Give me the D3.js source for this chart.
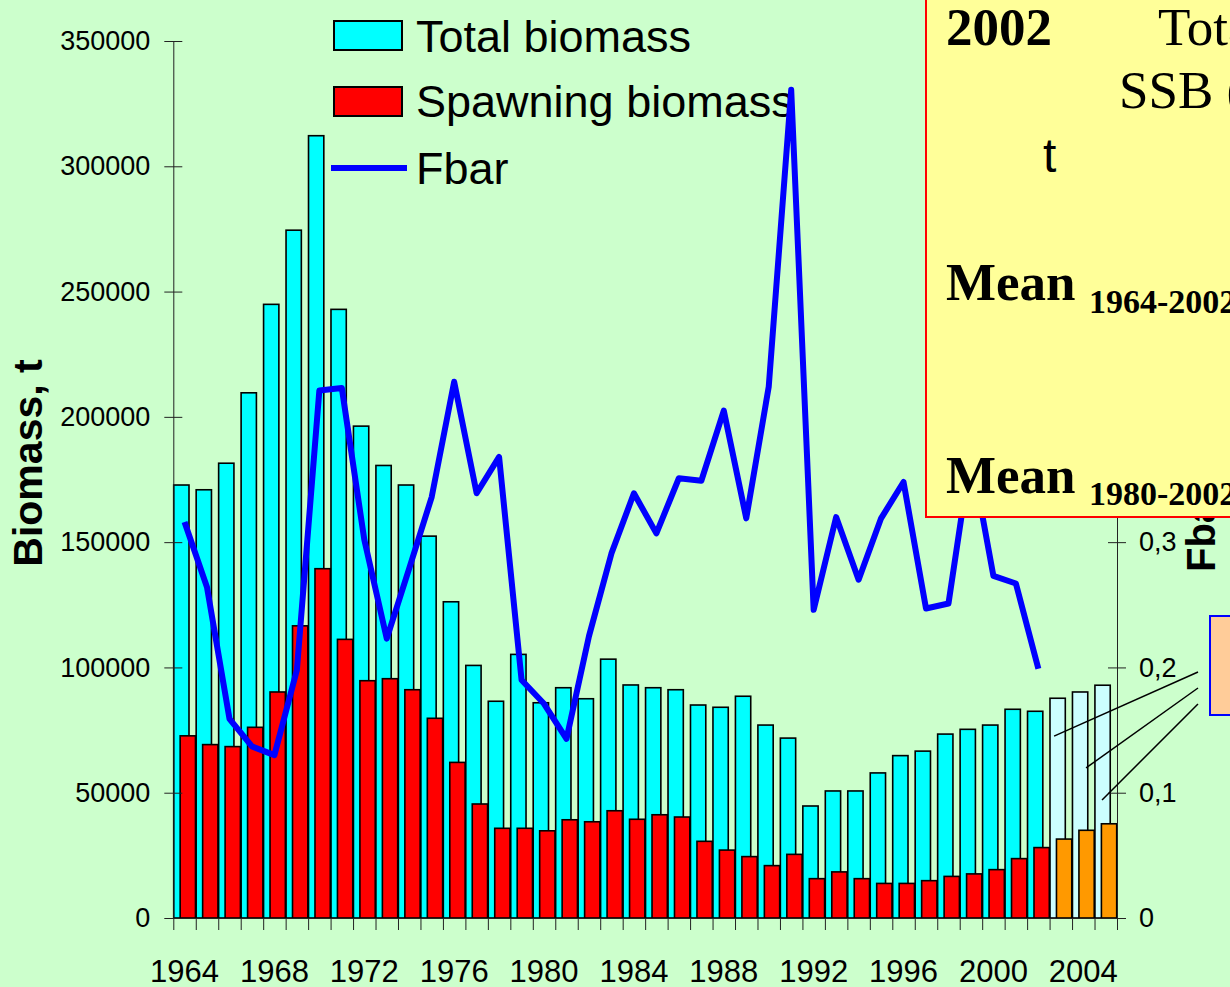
<!DOCTYPE html>
<html>
<head>
<meta charset="utf-8">
<script src="https://cdn.jsdelivr.net/npm/d3@7"></script>
<style>
  html, body { margin: 0; padding: 0; background: #CCFFCC; overflow: hidden; }
  svg { display: block; }
</style>
</head>
<body>
<div id="chart"></div>
<script>
// data
var years = d3.range(1964, 2006);
var totalBiomass = [172800, 170900, 181500, 209600, 244900, 274500, 312200, 242900, 196300, 180600,
    172800, 152400, 126200, 100800, 86500, 105200, 85900, 91900, 87500, 103300,
    93000, 91900, 91100, 85000, 84100, 88500, 77000, 71800, 44700, 50700,
    50700, 57900, 64800, 66600, 73400, 75300, 77000, 83300, 82500, 87700,
    90200, 92900];
var spawningBiomass = [72700, 69200, 68400, 76100, 90200, 116600, 139400, 111200, 94700, 95500,
    91100, 79700, 62100, 45500, 35800, 35800, 34800, 39200, 38400, 42800,
    39400, 41200, 40300, 30600, 27100, 24500, 20900, 25400, 15700, 18400,
    15700, 13800, 13800, 14900, 16600, 17600, 19300, 23700, 28100, 31500,
    35000, 37600];
var fbar = [0.316, 0.264, 0.159, 0.137, 0.130, 0.198, 0.421, 0.423, 0.302, 0.223,
    0.279, 0.336, 0.428, 0.339, 0.368, 0.190, 0.171, 0.143, 0.225, 0.291,
    0.339, 0.307, 0.351, 0.349, 0.405, 0.319, 0.424, 0.661, 0.246, 0.320,
    0.270, 0.319, 0.348, 0.247, 0.251, 0.371, 0.273, 0.267, 0.199, null,
    null, null];
var projectedYears = [2003, 2004, 2005];
var leftTicks = [0, 50000, 100000, 150000, 200000, 250000, 300000, 350000];
var rightTicks = [0, 0.1, 0.2, 0.3, 0.4, 0.5, 0.6, 0.7];
var labelYears = [1964, 1968, 1972, 1976, 1980, 1984, 1988, 1992, 1996, 2000, 2004];
var legendLabels = ["Total biomass", "Spawning biomass", "Fbar"];
// pointers from the note box to the projected bars
var pointerYears = [2003, 2004, 2005];
var pointerValues = [72600, 59900, 47100];

var W = 1230, H = 987;
var plotLeft = 173.3, plotRight = 1117, plotBottom = 918, plotTop = 41;
var sans = "'Liberation Sans', Arial, sans-serif";
var serif = "'Liberation Serif', 'Times New Roman', serif";

var svg = d3.select("#chart").append("svg")
    .attr("width", W).attr("height", H);

svg.append("rect").attr("width", W).attr("height", H).attr("fill", "#CCFFCC");

var x = d3.scaleBand().domain(years).range([plotLeft, plotRight]).padding(0);
var xl = d3.scaleLinear().domain([1964, 2006]).range([plotLeft, plotRight]);
var y = d3.scaleLinear().domain([0, 350000]).range([plotBottom, plotTop]);
var y2 = d3.scaleLinear().domain([0, 0.7]).range([plotBottom, plotTop]);
var bw = x.bandwidth();
var barW = 15.3;

var isProj = function(yr) { return projectedYears.indexOf(yr) >= 0; };

// total biomass bars
svg.append("g").selectAll("rect")
    .data(years)
    .enter().append("rect")
    .attr("x", function(d) { return x(d) + 0.4; })
    .attr("y", function(d, i) { return y(totalBiomass[i]); })
    .attr("width", barW)
    .attr("height", function(d, i) { return plotBottom - y(totalBiomass[i]); })
    .attr("fill", function(d) { return isProj(d) ? "#CCFFFF" : "#00FFFF"; })
    .attr("stroke", "#000").attr("stroke-width", 1.6);

// spawning biomass bars
svg.append("g").selectAll("rect")
    .data(years)
    .enter().append("rect")
    .attr("x", function(d) { return x(d) + bw - barW - 0.3; })
    .attr("y", function(d, i) { return y(spawningBiomass[i]); })
    .attr("width", barW)
    .attr("height", function(d, i) { return plotBottom - y(spawningBiomass[i]); })
    .attr("fill", function(d) { return isProj(d) ? "#FF9900" : "#FF0000"; })
    .attr("stroke", "#000").attr("stroke-width", 1.6);

// left axis
var gl = svg.append("g")
    .attr("transform", "translate(" + plotLeft + ",0)")
    .call(d3.axisLeft(y).tickValues(leftTicks).tickFormat(d3.format("d"))
        .tickSizeInner(9).tickSizeOuter(0).tickPadding(14));
gl.selectAll(".tick line").attr("x2", -9).attr("x1", 9).attr("stroke", "#222");
gl.select(".domain").attr("stroke", "#222");
gl.selectAll("text").attr("font-family", sans).attr("font-size", 27).attr("fill", "#000");

// right axis with comma decimals
var commaLocale = d3.formatLocale({decimal: ",", thousands: ".", grouping: [3], currency: ["", ""]});
var gr = svg.append("g")
    .attr("transform", "translate(" + plotRight + ",0)")
    .call(d3.axisRight(y2).tickValues(rightTicks)
        .tickFormat(function(d) { return d === 0 ? "0" : commaLocale.format(".1f")(d); })
        .tickSizeInner(9).tickSizeOuter(0).tickPadding(13));
gr.selectAll(".tick line").attr("x1", -9).attr("x2", 9).attr("stroke", "#222");
gr.select(".domain").attr("stroke", "#222");
gr.selectAll("text").attr("font-family", sans).attr("font-size", 27).attr("fill", "#000");

// bottom axis: boundary ticks
var gb = svg.append("g")
    .attr("transform", "translate(0," + plotBottom + ")")
    .call(d3.axisBottom(xl).tickValues(d3.range(1964, 2007)).tickFormat("")
        .tickSizeInner(12).tickSizeOuter(0));
gb.selectAll(".tick line").attr("stroke", "#222");
gb.select(".domain").attr("stroke", "#222");

// bottom axis: year labels
var gb2 = svg.append("g")
    .attr("transform", "translate(0," + plotBottom + ")")
    .call(d3.axisBottom(x).tickValues(labelYears).tickSize(0));
gb2.select(".domain").remove();
gb2.selectAll("text").attr("y", 64).attr("dy", 0)
    .attr("font-family", sans).attr("font-size", 31).attr("fill", "#000");

// axis titles
svg.append("text")
    .attr("transform", "translate(42,463) rotate(-90)")
    .attr("text-anchor", "middle")
    .attr("font-family", sans).attr("font-weight", "bold").attr("font-size", 41)
    .text("Biomass, t");
svg.append("text")
    .attr("transform", "translate(1215,572) rotate(-90)")
    .attr("text-anchor", "start")
    .attr("font-family", sans).attr("font-weight", "bold").attr("font-size", 40)
    .text("Fbar");

// legend
var legendY = [21, 87];
svg.append("rect").attr("x", 334).attr("y", legendY[0]).attr("width", 68).attr("height", 29)
    .attr("fill", "#00FFFF").attr("stroke", "#000").attr("stroke-width", 2);
svg.append("rect").attr("x", 334).attr("y", legendY[1]).attr("width", 68).attr("height", 29)
    .attr("fill", "#FF0000").attr("stroke", "#000").attr("stroke-width", 2);
svg.append("line").attr("x1", 331).attr("x2", 407).attr("y1", 168).attr("y2", 168)
    .attr("stroke", "#0000FF").attr("stroke-width", 6);
svg.selectAll(".legtext")
    .data(legendLabels)
    .enter().append("text")
    .attr("x", 416)
    .attr("y", function(d, i) { return [52, 117, 184][i]; })
    .attr("font-family", sans).attr("font-size", 45).attr("fill", "#000")
    .text(function(d) { return d; });

// Fbar line
var line = d3.line()
    .defined(function(d) { return d != null; })
    .x(function(d, i) { return x(years[i]) + bw / 2; })
    .y(function(d) { return y2(d); });
svg.append("path")
    .datum(fbar)
    .attr("d", line)
    .attr("fill", "none")
    .attr("stroke", "#0000FF")
    .attr("stroke-width", 6)
    .attr("stroke-linejoin", "round");

// yellow note box
svg.append("rect")
    .attr("x", 926).attr("y", -10).attr("width", 330).attr("height", 527)
    .attr("fill", "#FFFF99").attr("stroke", "#FF0000").attr("stroke-width", 2);
svg.append("text").attr("x", 946).attr("y", 45)
    .attr("font-family", serif).attr("font-weight", "bold").attr("font-size", 53).text("2002");
svg.append("text").attr("x", 1158).attr("y", 45)
    .attr("font-family", serif).attr("font-size", 53).text("Total");
svg.append("text").attr("x", 1119).attr("y", 108)
    .attr("font-family", serif).attr("font-size", 53).text("SSB (");
svg.append("text").attr("x", 1043).attr("y", 172)
    .attr("font-family", sans).attr("font-size", 48).text("t");
var meanRows = [[300, 313, "1964-2002"], [493, 505, "1980-2002"]];
meanRows.forEach(function(r) {
    svg.append("text").attr("x", 946).attr("y", r[0])
        .attr("font-family", serif).attr("font-weight", "bold").attr("font-size", 53).text("Mean");
    svg.append("text").attr("x", 1089).attr("y", r[1])
        .attr("font-family", serif).attr("font-weight", "bold").attr("font-size", 34).text(r[2]);
});

// orange note box and its pointers
svg.append("rect")
    .attr("x", 1210).attr("y", 616).attr("width", 40).attr("height", 99)
    .attr("fill", "#FFCC99").attr("stroke", "#0000FF").attr("stroke-width", 2);
var pointerDx = [4.5, 14, 7.5];
svg.selectAll(".pointer")
    .data(pointerYears)
    .enter().append("line")
    .attr("x1", 1198)
    .attr("y1", function(d, i) { return 672 + i * 16; })
    .attr("x2", function(d, i) { return x(d) + pointerDx[i]; })
    .attr("y2", function(d, i) { return y(pointerValues[i]); })
    .attr("stroke", "#000").attr("stroke-width", 1.5);
</script>
</body>
</html>
